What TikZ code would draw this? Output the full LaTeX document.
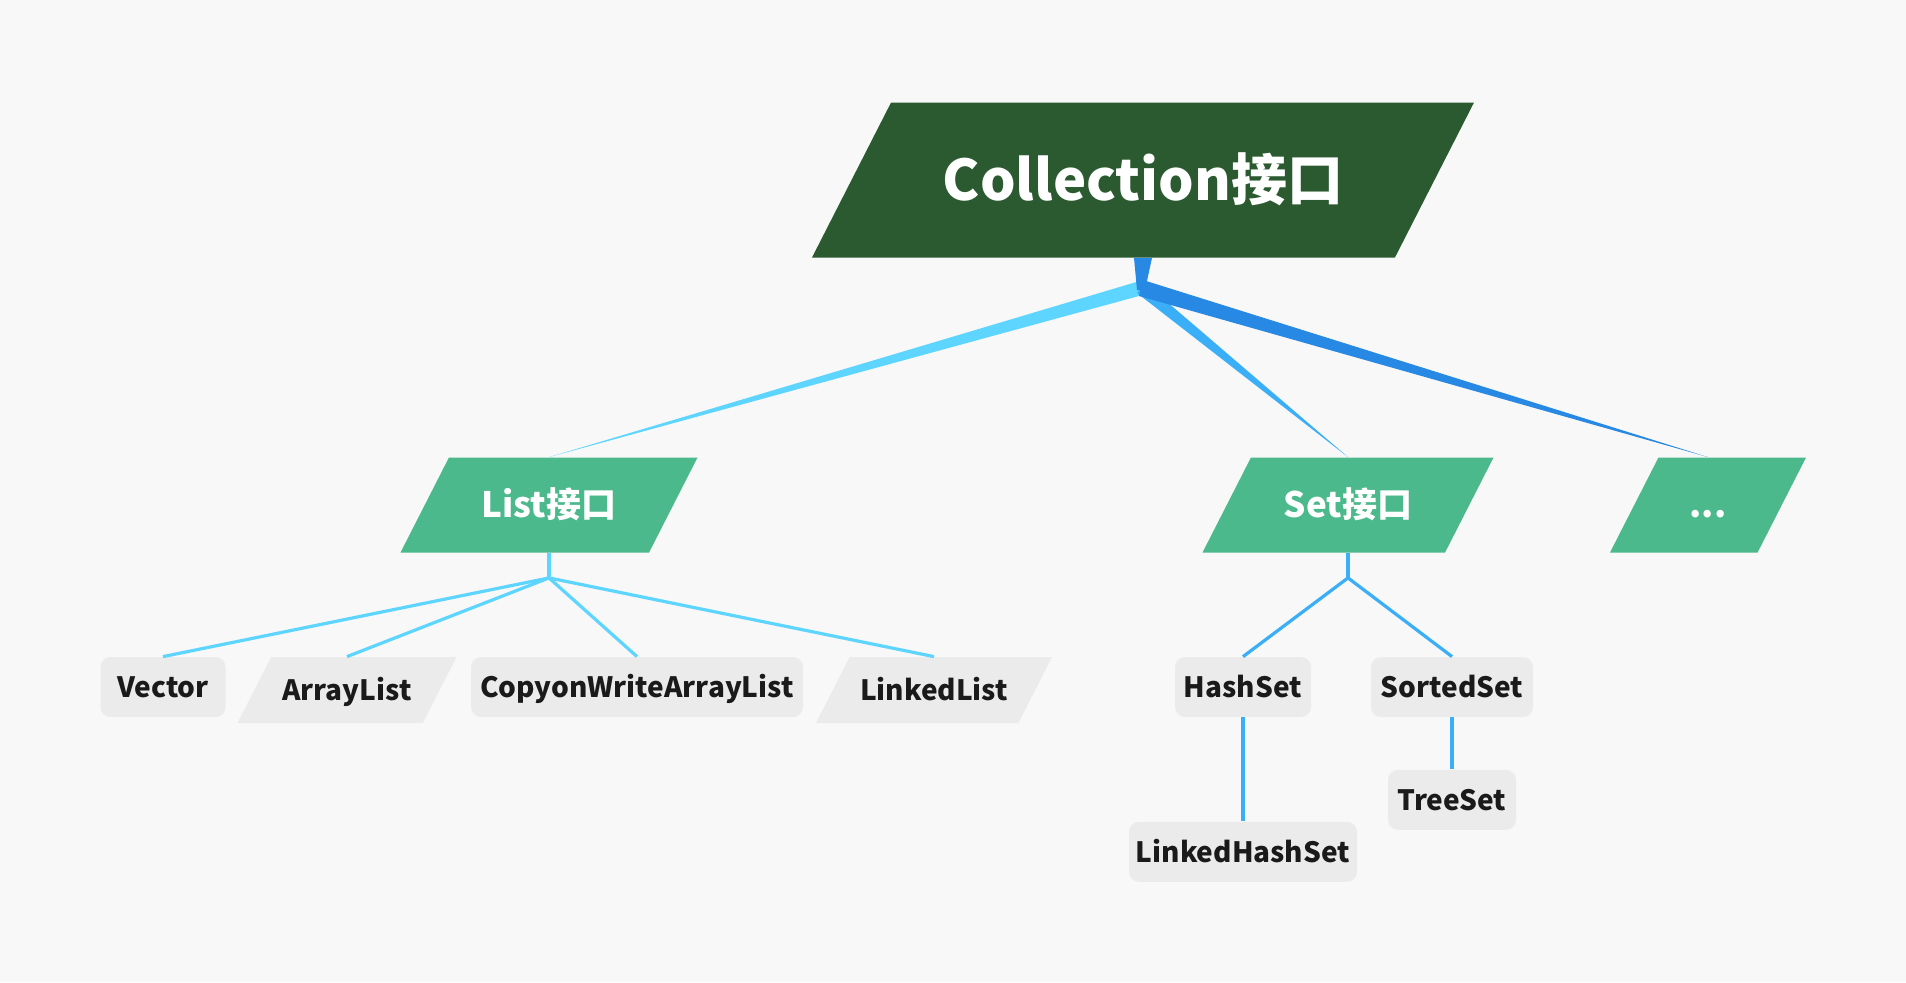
\documentclass[tikz,border=0pt]{standalone}
\usepackage{fontspec}
\setmainfont{Noto Sans CJK SC}
\usetikzlibrary{positioning, calc}

\definecolor{bgcol}{HTML}{F8F8F8}
\definecolor{rootgreen}{HTML}{2B5A30}
\definecolor{midgreen}{HTML}{4BB98B}
\definecolor{leafgray}{HTML}{EBEBEB}
\definecolor{leaftext}{HTML}{1A1A1A}
\definecolor{listline}{HTML}{5DD5FE}
\definecolor{setline}{HTML}{3AAFF8}
\definecolor{moreline}{HTML}{2889E4}

\begin{document}
\begin{tikzpicture}[
    x=0.5pt, y=-0.5pt, % one unit = one pixel of the reference
    slanted/.style={rectangle, inner sep=0pt, path picture={
        \fill[#1] let \p1=(path picture bounding box.north east), \p2=(path picture bounding box.south west),
            \n1={0.51*(\y1-\y2)} in
            (\x2,\y2) -- (\x2+\n1,\y1) -- (\x1,\y1) -- (\x1-\n1,\y2) -- cycle;}},
    rootnode/.style={slanted=rootgreen, text=white, minimum width=331pt, minimum height=77.5pt, text height=20pt, text depth=0pt, font=\bfseries\fontsize{28}{33}\selectfont},
    midnode/.style={slanted=midgreen, text=white, minimum height=47.5pt, text height=12.7pt, text depth=0pt, font=\bfseries\fontsize{17.5}{21}\selectfont},
    leafbox/.style={rectangle, rounded corners=5pt, fill=leafgray, text=leaftext, minimum height=30pt, inner sep=0pt, text height=10.2pt, text depth=0pt, font=\bfseries\fontsize{14}{17}\selectfont},
    leafslant/.style={slanted=leafgray, text=leaftext, minimum height=33pt, text height=10.2pt, text depth=0pt, font=\bfseries\fontsize{14}{17}\selectfont},
    listedge/.style={listline, line width=1.6pt},
    setedge/.style={setline, line width=1.6pt}
]
\useasboundingbox (0,0) rectangle (1906,982);
\fill[bgcol] (0,0) rectangle (1906,982);

% root
\node[rootnode] (col) at (1143,180) {Collection接口};

% second level
\node[midnode, minimum width=148.5pt] (list) at (549,505) {List接口};
\node[midnode, minimum width=145.5pt] (set) at (1348,505) {Set接口};
\node[midnode, minimum width=98pt] (more) at (1708,505) {...};

% list children
\node[leafbox, minimum width=62.5pt] (vector) at (163,687) {Vector};
\node[leafslant, minimum width=109.5pt] (arraylist) at (347,690) {ArrayList};
\node[leafbox, minimum width=166pt] (cowlist) at (637,687) {CopyonWriteArrayList};
\node[leafslant, minimum width=118pt] (linkedlist) at (934,690) {LinkedList};

% set children
\node[leafbox, minimum width=68pt] (hashset) at (1243,687) {HashSet};
\node[leafbox, minimum width=81pt] (sortedset) at (1452,687) {SortedSet};
\node[leafbox, minimum width=64pt] (treeset) [below=26pt of sortedset] {TreeSet};
\node[leafbox, minimum width=114pt] (lhset) [below=52pt of hashset] {LinkedHashSet};

% tapered branches from the root
\coordinate (hub) at (1141,288);
\fill[listline] ($(hub)+(2,-8)$) -- ($(hub)+(-2,8)$) -- (list.north) -- cycle;
\fill[setline] ($(hub)+(-4,5)$) -- ($(hub)+(4,-5)$) -- (set.north) -- cycle;
\fill[moreline] ($(hub)+(-2,8)$) -- ($(hub)+(2,-8)$) -- (more.north) -- cycle;
\fill[moreline] ($(col.south)+(-9,0)$) -- ($(col.south)+(9,0)$) -- ($(hub)+(4,2)$) -- ($(hub)+(-4,2)$) -- cycle;

% list branch
\coordinate (listhub) at ($(list.south)+(0,25)$);
\draw[listedge] (list.south) -- (listhub);
\foreach \c in {vector, arraylist, cowlist, linkedlist}
    \draw[listedge] (listhub) -- (\c.north);

% set branch
\coordinate (sethub) at ($(set.south)+(0,25)$);
\draw[setedge] (set.south) -- (sethub);
\draw[setedge] (sethub) -- (hashset.north);
\draw[setedge] (sethub) -- (sortedset.north);
\draw[setedge] (hashset) -- (lhset);
\draw[setedge] (sortedset) -- (treeset);

\end{tikzpicture}
\end{document}
